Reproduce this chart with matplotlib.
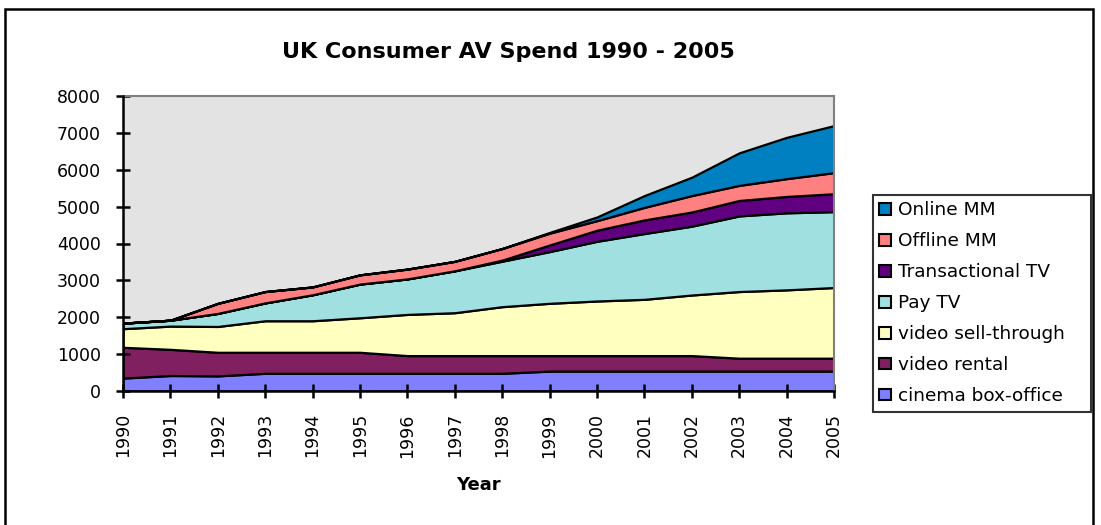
import matplotlib
matplotlib.use("Agg")
import matplotlib.pyplot as plt
from matplotlib.patches import Patch, Rectangle

years = list(range(1990, 2006))
series_names = ["cinema box-office", "video rental", "video sell-through",
                "Pay TV", "Transactional TV", "Offline MM", "Online MM"]
cinema_box_office = [350, 420, 410, 480, 480, 480, 480, 480, 480, 540, 540, 540, 540, 540, 540, 540]
video_rental = [835, 710, 640, 570, 570, 570, 480, 480, 480, 420, 420, 420, 420, 350, 350, 350]
video_sell_through = [505, 630, 700, 855, 855, 936, 1117, 1163, 1327, 1418, 1481, 1526, 1643, 1807, 1853, 1916]
pay_tv = [150, 160, 354, 485, 705, 914, 963, 1137, 1233, 1402, 1619, 1784, 1867, 2051, 2089, 2058]
transactional_tv = [0, 0, 0, 0, 0, 0, 0, 0, 30, 180, 300, 370, 384, 419, 444, 486]
offline_mm = [0, 0, 273, 307, 212, 250, 266, 256, 314, 320, 260, 340, 446, 409, 483, 572]
online_mm = [0, 0, 0, 0, 0, 0, 0, 0, 0, 20, 100, 320, 498, 882, 1119, 1275]
y_ticks = [0, 1000, 2000, 3000, 4000, 5000, 6000, 7000, 8000]

colors = ["#8080FF", "#802060", "#FFFFC0", "#A0E0E0", "#600080", "#FF8080", "#0080C0"]

plt.rcParams["font.family"] = ["DejaVu Sans"]

fig = plt.figure(figsize=(11.01, 5.25), dpi=100)
ax = fig.add_axes([123 / 1101, 1 - 391 / 525, (834 - 123) / 1101, (391 - 96) / 525])
ax.set_facecolor("#E3E3E3")

stacks = ax.stackplot(years, cinema_box_office, video_rental, video_sell_through, pay_tv,
                      transactional_tv, offline_mm, online_mm,
                      colors=colors, edgecolor="black", linewidth=1.6)
for s in stacks:
    s.set_joinstyle("miter")

ax.set_xlim(1990, 2005)
ax.set_ylim(0, 8000)
ax.set_xticks(years)
ax.set_xticklabels([str(y) for y in years], rotation=90, fontsize=12.5)
ax.set_yticks(y_ticks)
ax.set_yticklabels([str(v) for v in y_ticks], fontsize=12.5)
ax.tick_params(direction="inout", length=10, width=1.8, color="black")
ax.tick_params(axis="x", pad=11)
ax.tick_params(axis="y", pad=11)

for side in ("top", "right"):
    ax.spines[side].set_color("#808080")
    ax.spines[side].set_linewidth(1.5)
for side in ("left", "bottom"):
    ax.spines[side].set_color("black")
    ax.spines[side].set_linewidth(1.8)
    ax.spines[side].set_zorder(5)

ax.set_xlabel("Year", fontsize=13, fontweight="bold", labelpad=13)
fig.text(508 / 1101, 1 - 52 / 525, "UK Consumer AV Spend 1990 - 2005",
         ha="center", va="center", fontsize=16, fontweight="bold")

handles = [Patch(facecolor=c, edgecolor="black", linewidth=1.5, label=n)
           for c, n in zip(colors, series_names)][::-1]
leg_x0, leg_x1 = 873 / 1101, 1091 / 1101
leg_top, leg_bottom = 1 - 195 / 525, 1 - 408 / 525
leg = fig.legend(handles=handles, loc="upper left", mode="expand",
                 bbox_to_anchor=(leg_x0, leg_bottom, leg_x1 - leg_x0, leg_top - leg_bottom),
                 fontsize=13.3, frameon=True, fancybox=False,
                 edgecolor="black", handlelength=0.6, handleheight=0.6,
                 handletextpad=0.4, labelspacing=0.70, borderpad=0.35,
                 borderaxespad=0)
leg.get_frame().set_linewidth(1.5)

# chart border
fig.patches.append(Rectangle((5 / 1101, -0.05), (1093 - 5) / 1101, 1.05 - 9 / 525,
                             transform=fig.transFigure, fill=False,
                             edgecolor="black", linewidth=1.8))

fig.savefig("out.png", dpi=100, facecolor="white")
